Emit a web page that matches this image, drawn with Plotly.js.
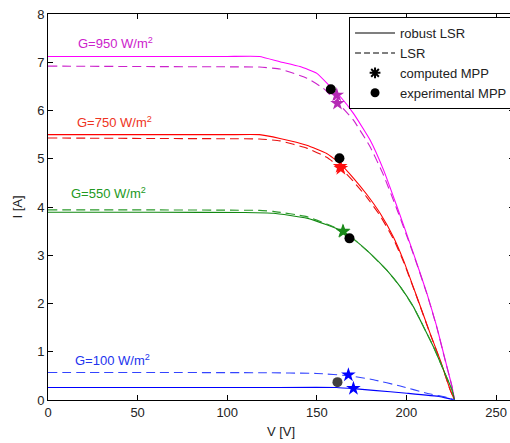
<!DOCTYPE html>
<html>
<head>
<meta charset="utf-8">
<script src="https://cdn.plot.ly/plotly-3.0.1.min.js"></script>
<style>
html,body{margin:0;padding:0;overflow:hidden;background:#fff;}
#chart{width:514px;height:443px;}
</style>
</head>
<body>
<div id="chart"></div>
<script>
// ---- data ----
const v950Robust = [0, 60, 100, 118, 129.4, 140.6, 150, 157.4, 163, 170.4, 179.7, 187.2, 194.6, 203.9, 211.4, 216.9, 221.6, 225.4, 226.8];
const i950Robust = [7.12, 7.12, 7.12, 7.12, 7.01, 6.91, 6.77, 6.5, 6.29, 5.94, 5.39, 4.77, 4.02, 3.04, 2.21, 1.52, 0.83, 0.28, 0];
const v950Lsr = [0, 60, 100, 118, 129.4, 144.4, 153.6, 163, 170.4, 179.7, 187.2, 194.6, 203.9, 211.4, 216.9, 221.6, 225.4, 226.8];
const i950Lsr = [6.92, 6.91, 6.905, 6.9, 6.86, 6.67, 6.46, 6.11, 5.8, 5.25, 4.66, 3.96, 3.02, 2.2, 1.51, 0.82, 0.28, 0];

const v750Robust = [0, 60, 100, 118, 129.4, 144.4, 155.5, 163, 170.4, 177.9, 185.3, 192.7, 198.3, 205.8, 213.2, 218.8, 224.4, 226.8];
const i750Robust = [5.5, 5.5, 5.5, 5.5, 5.42, 5.28, 5.11, 4.9, 4.6, 4.26, 3.87, 3.38, 2.9, 2.14, 1.38, 0.83, 0.21, 0];
const v750Lsr = [0, 60, 100, 118, 129.4, 144.4, 155.5, 163, 170.4, 177.9, 185.3, 192.7, 198.3, 205.8, 213.2, 218.8, 224.4, 226.8];
const i750Lsr = [5.43, 5.42, 5.415, 5.41, 5.37, 5.22, 5.03, 4.82, 4.53, 4.2, 3.82, 3.34, 2.87, 2.13, 1.37, 0.82, 0.21, 0];

const v550Robust = [0, 60, 110, 125.7, 144.4, 155.5, 164.8, 170.4, 179.7, 189, 196.5, 203.9, 209.5, 215.1, 220.7, 225.4, 226.8];
const i550Robust = [3.89, 3.89, 3.885, 3.87, 3.77, 3.63, 3.49, 3.34, 3.04, 2.69, 2.35, 1.93, 1.52, 1.1, 0.62, 0.21, 0];
const v550Lsr = [0, 60, 100, 118, 125.7, 144.4, 155.5, 164.8, 170.4, 179.7, 189, 196.5, 203.9, 209.5, 215.1, 220.7, 225.4, 226.8];
const i550Lsr = [3.94, 3.94, 3.935, 3.93, 3.91, 3.8, 3.65, 3.5, 3.34, 3.04, 2.69, 2.35, 1.93, 1.52, 1.1, 0.62, 0.21, 0];

const v100Robust = [0, 60, 120, 161, 172, 181.6, 200.2, 218.8, 226.8];
const i100Robust = [0.26, 0.26, 0.26, 0.26, 0.23, 0.2, 0.14, 0.07, 0];
const v100Lsr = [0, 60, 120, 150, 168.6, 181.6, 196.5, 211.4, 224.4, 226.8];
const i100Lsr = [0.57, 0.57, 0.565, 0.55, 0.5, 0.42, 0.29, 0.14, 0.04, 0];

// computed MPP (stars), per irradiance: [robust, LSR]
const mpp950V = [161.1, 161.5], mpp950I = [6.32, 6.15];
const mpp750V = [163, 163.4], mpp750I = [4.84, 4.8];
const mpp550V = [164.8, 164.5], mpp550I = [3.49, 3.5];
const mpp100V = [170.4, 167.6], mpp100I = [0.24, 0.52];
// experimental MPP (dots)
const expV = [157.8, 162.6, 168.2];
const expI = [6.44, 5.01, 3.35];
const exp100V = [161.5], exp100I = [0.37];

const labels = ['G=950 W/m<sup>2</sup>', 'G=750 W/m<sup>2</sup>', 'G=550 W/m<sup>2</sup>', 'G=100 W/m<sup>2</sup>'];
const labelV = [37.8, 37.3, 33.6, 36.1];
const labelI = [7.4, 5.76, 4.29, 0.83];
const legendNames = ['robust LSR', 'LSR', 'computed MPP', 'experimental MPP'];
const xTicks = [0, 50, 100, 150, 200, 250];
const yTicks = [0, 1, 2, 3, 4, 5, 6, 7, 8];

// ---- styles ----
const C950 = '#ff00ff', C950d = '#cc22cc';
const C750 = '#ff0000', C750d = '#e81010';
const C550 = '#118811', C550d = '#2a9a2a';
const C100 = '#0000ff', C100d = '#3344ff';
const DASH = '9px,5px';
const FONT = 'Liberation Sans, Arial, sans-serif';

function line(x, y, color, dashed) {
  return {x: x, y: y, type: 'scatter', mode: 'lines', showlegend: false, hoverinfo: 'skip',
    line: {color: color, width: 1.1, dash: dashed ? DASH : 'solid', shape: 'spline', smoothing: 0.4}};
}
function stars(x, y, color) {
  return {x: x, y: y, type: 'scatter', mode: 'markers', showlegend: false,
    marker: {symbol: 'star', size: 11, color: color, line: {width: 0}}};
}
function dots(x, y, color) {
  return {x: x, y: y, type: 'scatter', mode: 'markers', showlegend: false,
    marker: {symbol: 'circle', size: 10, color: color, line: {width: 0}}};
}

const traces = [
  line(v950Robust, i950Robust, C950, false),
  line(v950Lsr, i950Lsr, C950d, true),
  line(v750Robust, i750Robust, C750, false),
  line(v750Lsr, i750Lsr, C750d, true),
  line(v550Robust, i550Robust, C550, false),
  line(v550Lsr, i550Lsr, C550d, true),
  line(v100Robust, i100Robust, C100, false),
  line(v100Lsr, i100Lsr, C100d, true),
  stars(mpp950V, mpp950I, '#b52ab5'),
  stars(mpp750V, mpp750I, '#ff1010'),
  stars(mpp550V, mpp550I, '#1a8a1a'),
  stars(mpp100V, mpp100I, '#0000ff'),
  dots(expV, expI, '#000000'),
  dots(exp100V, exp100I, '#404040'),
  // legend entries
  {x: [null], y: [null], type: 'scatter', mode: 'lines', name: legendNames[0], line: {color: '#000', width: 1.1}},
  {x: [null], y: [null], type: 'scatter', mode: 'lines', name: legendNames[1], line: {color: '#000', width: 1.1, dash: '6px,3px'}},
  {x: [null], y: [null], type: 'scatter', mode: 'markers', name: legendNames[2], marker: {symbol: 'asterisk-open', size: 9, color: '#000', line: {color: '#000', width: 2}}},
  {x: [null], y: [null], type: 'scatter', mode: 'markers', name: legendNames[3], marker: {symbol: 'circle', size: 9, color: '#000'}}
];

const labelColors = ['#cc22cc', '#ee3322', '#229922', '#2233ee'];
const annotations = labels.map((t, k) => ({
  x: labelV[k], y: labelI[k], xref: 'x', yref: 'y', text: t, showarrow: false,
  xanchor: 'center', yanchor: 'middle',
  font: {family: FONT, size: 13, color: labelColors[k]}
}));

const axisCommon = {
  showline: true, linecolor: '#000', linewidth: 1, mirror: 'ticks',
  ticks: 'inside', ticklen: 5, tickcolor: '#000', tickwidth: 1,
  showgrid: false, zeroline: false,
  tickfont: {family: FONT, size: 13, color: '#222'}
};

const layout = {
  width: 514, height: 443,
  margin: {l: 48, r: 0, t: 14, b: 43},
  paper_bgcolor: '#fff', plot_bgcolor: '#fff',
  font: {family: FONT, size: 13, color: '#222'},
  xaxis: Object.assign({}, axisCommon, {
    range: [0, 260], tickvals: xTicks, ticktext: xTicks.map(String),
    title: {text: 'V [V]', standoff: 8, font: {size: 13, color: '#222'}}
  }),
  yaxis: Object.assign({}, axisCommon, {
    range: [0, 8], tickvals: yTicks, ticktext: yTicks.map(String),
    title: {text: 'I [A]', standoff: 11, font: {size: 13, color: '#222'}}
  }),
  showlegend: true,
  legend: {
    x: 0.646, xanchor: 'left', y: 0.992, yanchor: 'top',
    bgcolor: '#fff', bordercolor: '#000', borderwidth: 1,
    font: {family: FONT, size: 13, color: '#222'},
    itemwidth: 40, tracegroupgap: 0
  },
  annotations: annotations
};

Plotly.newPlot('chart', traces, layout, {displayModeBar: false, staticPlot: true});
</script>
</body>
</html>
